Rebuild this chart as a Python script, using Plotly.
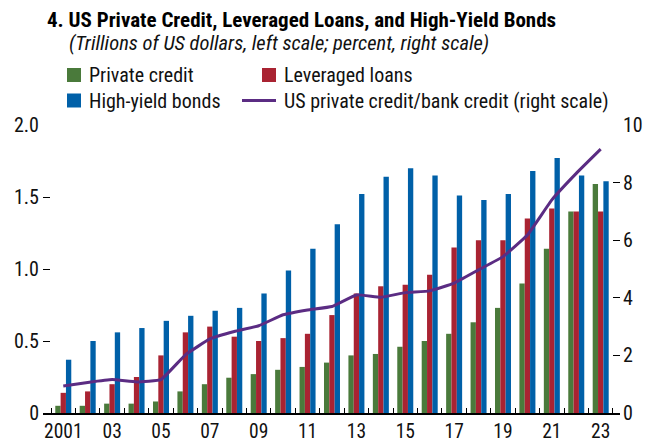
import plotly.graph_objects as go

years = list(range(2001, 2024))
tick_labels = ["2001", "03", "05", "07", "09", "11", "13", "15", "17", "19", "21", "23"]

private_credit = [0.05, 0.05, 0.065, 0.065, 0.08, 0.15, 0.20, 0.245, 0.27, 0.30, 0.32, 0.35,
                  0.40, 0.41, 0.46, 0.50, 0.55, 0.63, 0.73, 0.90, 1.14, 1.40, 1.59]
leveraged_loans = [0.14, 0.15, 0.20, 0.25, 0.40, 0.56, 0.60, 0.53, 0.50, 0.52, 0.55, 0.68,
                   0.83, 0.88, 0.89, 0.96, 1.15, 1.20, 1.20, 1.35, 1.42, 1.40, 1.40]
high_yield = [0.37, 0.50, 0.56, 0.59, 0.64, 0.675, 0.71, 0.73, 0.83, 0.99, 1.14, 1.31,
              1.52, 1.64, 1.70, 1.65, 1.51, 1.48, 1.52, 1.68, 1.77, 1.65, 1.61]
pc_bank_ratio = [0.94, 1.06, 1.16, 1.08, 1.16, 2.02, 2.57, 2.83, 3.03, 3.41, 3.58, 3.70,
                 4.10, 4.02, 4.18, 4.24, 4.51, 4.97, 5.43, 6.18, 7.40, 8.32, 9.16]

series_names = ["Private credit", "Leveraged loans", "High-yield bonds",
                "US private credit/bank credit (right scale)"]
colors = ["#4a7a3b", "#a92332", "#0060a8", "#5b2c83"]

title = "4. US Private Credit, Leveraged Loans, and High-Yield Bonds"
subtitle = "(Trillions of US dollars, left scale; percent, right scale)"

FONT = "Liberation Sans Narrow, Arial Narrow, Roboto Condensed, sans-serif"

# the page body adds an 8px offset; the figure is sized/positioned to compensate
OFF = 8
W, H = 662 - OFF, 443 - OFF
L, R, T, B = 43 - OFF, 620 - OFF, 125 - OFF, 413 - OFF
pw, ph = R - L, B - T


def px(x):
    """reference-screen x pixel -> paper coordinate"""
    return (x - OFF - L) / pw


def py(y):
    """reference-screen y pixel -> paper coordinate"""
    return (B - (y - OFF)) / ph


xs = list(range(len(years)))

fig = go.Figure()
for vals, name, col in zip([private_credit, leveraged_loans, high_yield], series_names[:3], colors[:3]):
    fig.add_trace(go.Bar(x=xs, y=vals, name=name, marker=dict(color=col, line=dict(width=0)),
                         showlegend=False))
fig.add_trace(go.Scatter(x=xs, y=pc_bank_ratio, name=series_names[3], mode="lines",
                         line=dict(color=colors[3], width=3, shape="spline", smoothing=0.3),
                         yaxis="y2", showlegend=False))

tickvals = [xs[i] for i in range(0, len(years), 2)]

fig.update_layout(
    template="none",
    width=W, height=H,
    margin=dict(l=L, r=W - R, t=T, b=H - B, pad=0),
    paper_bgcolor="white", plot_bgcolor="white",
    font=dict(family=FONT, size=20, color="#111111"),
    barmode="group", bargap=0.345, bargroupgap=0,
    showlegend=False,
    xaxis=dict(
        automargin=False,
        range=[-0.83, 22.79], tickvals=tickvals, ticktext=tick_labels, ticks="",
        tickfont=dict(size=19.5),
        showline=True, linecolor="black", linewidth=1.5, showgrid=False, zeroline=False,
        minor=dict(tickvals=[i - 0.5 for i in range(len(years) + 1)], ticks="inside",
                   ticklen=5, tickwidth=1, tickcolor="black", showgrid=False),
        ticklabelstandoff=0,
    ),
    yaxis=dict(
        automargin=False,
        range=[0, 2.0], tickvals=[0, 0.5, 1.0, 1.5, 2.0], ticktext=["0", "0.5", "1.0", "1.5", "2.0"],
        ticks="inside", ticklen=7, tickwidth=1.2, tickcolor="black",
        showline=False, showgrid=False, zeroline=False, ticklabelstandoff=3,
    ),
    yaxis2=dict(
        automargin=False,
        range=[0, 10], tickvals=[0, 2, 4, 6, 8, 10], overlaying="y", side="right",
        ticks="inside", ticklen=7, tickwidth=1.2, tickcolor="black",
        showline=False, showgrid=False, zeroline=False, ticklabelstandoff=2,
    ),
)

annotations = [
    dict(text="<b>" + title + "</b>", x=px(46), y=py(20.5), xref="paper", yref="paper",
         xanchor="left", yanchor="middle", showarrow=False, borderpad=0,
         font=dict(family=FONT, size=21, color="black")),
    dict(text="<i>" + subtitle + "</i>", x=px(68), y=py(42.5), xref="paper", yref="paper",
         xanchor="left", yanchor="middle", showarrow=False, borderpad=0,
         font=dict(family=FONT, size=20.5, color="#111111")),
]
shapes = []
# manual legend
leg = [
    (0, 67, 75, "box", 88),
    (1, 262, 75, "box", 283),
    (2, 67, 100.5, "box", 88),
    (3, 242, 100.5, "line", 283),
]
for idx, x0, yc, kind, tx in leg:
    if kind == "box":
        shapes.append(dict(type="rect", xref="paper", yref="paper",
                           x0=px(x0), x1=px(x0 + 14), y0=py(yc - 7), y1=py(yc + 7),
                           fillcolor=colors[idx], line=dict(width=0)))
    else:
        shapes.append(dict(type="line", xref="paper", yref="paper",
                           x0=px(x0), x1=px(x0 + 34), y0=py(yc), y1=py(yc),
                           line=dict(color=colors[idx], width=3)))
    annotations.append(dict(text=series_names[idx], x=px(tx), y=py(yc), xref="paper", yref="paper",
                            xanchor="left", yanchor="middle", showarrow=False, borderpad=0,
                            font=dict(family=FONT, size=20, color="#111111")))

fig.update_layout(annotations=annotations, shapes=shapes)
fig.write_html("out.html")
